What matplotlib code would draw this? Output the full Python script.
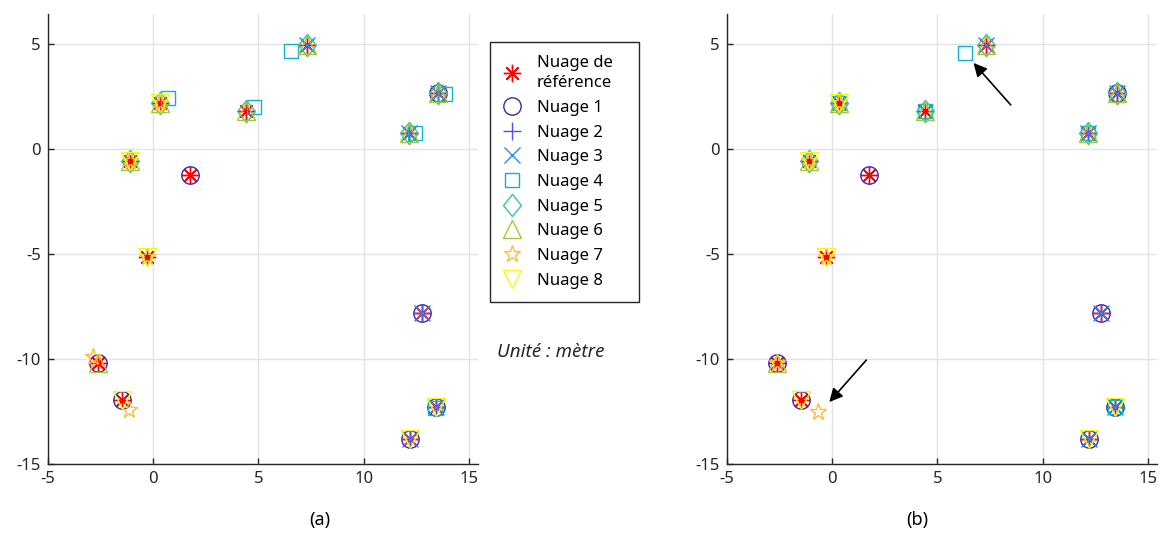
import matplotlib
matplotlib.use("Agg")
import matplotlib.pyplot as plt
from matplotlib.path import Path
from matplotlib.patches import Rectangle

plt.rcParams['font.family'] = ['Noto Sans', 'DejaVu Sans']
plt.rcParams['axes.unicode_minus'] = False

# ---------------- data ----------------
ref_x = [7.3, 0.33, 4.43, 13.55, 12.15, -1.12, 1.75, -0.29, 12.77, -2.62, -1.47, 13.42, 12.2]
ref_y = [4.93, 2.18, 1.81, 2.67, 0.77, -0.57, -1.24, -5.13, -7.8, -10.18, -11.95, -12.29, -13.81]

# panel (a)
a_n1_x = [13.55, 1.75, 12.77, -2.62, -1.47, 13.42, 12.2]
a_n1_y = [2.67, -1.24, -7.8, -10.18, -11.95, -12.29, -13.81]
a_n2_x = [13.55, 12.15, 12.77, 13.42, 12.2]
a_n2_y = [2.67, 0.77, -7.8, -12.29, -13.81]
a_n3_x = [7.3, 13.55, 12.15, 12.77, 13.42, 12.2]
a_n3_y = [4.93, 2.67, 0.77, -7.8, -12.29, -13.81]
a_n4_x = [6.56, 0.7, 4.8, 13.88, 12.45, 13.38]
a_n4_y = [4.65, 2.41, 1.98, 2.62, 0.75, -12.33]
a_n5_x = [7.3, 0.33, 4.43, 13.55, 12.15, -1.12]
a_n5_y = [4.93, 2.18, 1.81, 2.67, 0.77, -0.57]
a_n6_x = [7.3, 0.33, 4.43, 13.55, 12.15, -1.12, -2.62]
a_n6_y = [4.93, 2.18, 1.81, 2.67, 0.77, -0.57, -10.18]
a_n7_x = [0.33, -1.12, -0.29, -2.88, -1.13]
a_n7_y = [2.18, -0.57, -5.13, -9.89, -12.43]
a_n8_x = [0.33, -1.12, -0.29, -1.47, 13.42, 12.2]
a_n8_y = [2.18, -0.57, -5.13, -11.95, -12.29, -13.81]

# panel (b)
b_n1_x = a_n1_x
b_n1_y = a_n1_y
b_n2_x = a_n2_x
b_n2_y = a_n2_y
b_n3_x = a_n3_x
b_n3_y = a_n3_y
b_n4_x = [6.29, 0.33, 4.43, 12.15, 13.42]
b_n4_y = [4.56, 2.18, 1.81, 0.77, -12.29]
b_n5_x = a_n5_x
b_n5_y = a_n5_y
b_n6_x = a_n6_x
b_n6_y = a_n6_y
b_n7_x = [0.33, -1.12, -0.29, -2.62, -0.68]
b_n7_y = [2.18, -0.57, -5.13, -10.18, -12.51]
b_n8_x = a_n8_x
b_n8_y = a_n8_y

labels = ['Nuage de\nréférence', 'Nuage 1', 'Nuage 2', 'Nuage 3', 'Nuage 4',
          'Nuage 5', 'Nuage 6', 'Nuage 7', 'Nuage 8']
xticks = [-5, 0, 5, 10, 15]
xtick_labels = ['-5', '0', '5', '10', '15']
yticks = [-15, -10, -5, 0, 5]
ytick_labels = ['-15', '-10', '-5', '0', '5']

# arrows (panel b): (tip x, tip y, tail x, tail y)
arrow1 = (6.71, 4.10, 8.48, 2.10)
arrow2 = (-0.14, -12.05, 1.62, -10.05)

# ---------------- styles ----------------
colors = ['#ff0000', '#3e26a8', '#4852f4', '#2d87f0', '#11b1d6',
          '#37c899', '#abc337', '#fdbb38', '#f5f911']
diamond = Path([(0, 1), (0.8, 0), (0, -1), (-0.8, 0), (0, 1)],
               [Path.MOVETO, Path.LINETO, Path.LINETO, Path.LINETO, Path.CLOSEPOLY])
markers = [(8, 2, 0), 'o', '+', 'x', 's', diamond, '^', '*', 'v']
msizes = [12.5, 12.5, 12.5, 11, 9.4, 16, 13, 12.5, 13]

W, H = 1161, 536
fig = plt.figure(figsize=(W / 100, H / 100), dpi=100)
ax1 = fig.add_axes([48 / W, 1 - 464 / H, 430 / W, 450 / H])
ax2 = fig.add_axes([727 / W, 1 - 464 / H, 430 / W, 450 / H])

panel_a = [(ref_x, ref_y), (a_n1_x, a_n1_y), (a_n2_x, a_n2_y), (a_n3_x, a_n3_y),
           (a_n4_x, a_n4_y), (a_n5_x, a_n5_y), (a_n6_x, a_n6_y), (a_n7_x, a_n7_y),
           (a_n8_x, a_n8_y)]
panel_b = [(ref_x, ref_y), (b_n1_x, b_n1_y), (b_n2_x, b_n2_y), (b_n3_x, b_n3_y),
           (b_n4_x, b_n4_y), (b_n5_x, b_n5_y), (b_n6_x, b_n6_y), (b_n7_x, b_n7_y),
           (b_n8_x, b_n8_y)]

dark = '#262626'
FS = 12
handles = []
for ax, data in ((ax1, panel_a), (ax2, panel_b)):
    for i, (xs, ys) in enumerate(data):
        ln, = ax.plot(xs, ys, ls='none', marker=markers[i], ms=msizes[i],
                      mec=colors[i], mfc='none', mew=1.0, label=labels[i])
        if ax is ax1:
            handles.append(ln)
    ax.set_xlim(-5, 15.43)
    ax.set_ylim(-15, 6.43)
    ax.set_xticks(xticks)
    ax.set_xticklabels(xtick_labels)
    ax.set_yticks(yticks)
    ax.set_yticklabels(ytick_labels)
    ax.grid(True, color='#e3e3e3', lw=1.0)
    ax.set_axisbelow(True)
    for s in ('top', 'right'):
        ax.spines[s].set_visible(False)
    for s in ('left', 'bottom'):
        ax.spines[s].set_color(dark)
        ax.spines[s].set_linewidth(1.0)
    ax.tick_params(direction='in', length=4, width=1.0, color=dark,
                   labelcolor=dark, labelsize=FS, pad=5)

for tipx, tipy, tailx, taily in (arrow1, arrow2):
    ax2.annotate('', xy=(tipx, tipy), xytext=(tailx, taily),
                 arrowprops=dict(arrowstyle='-|>', color='black', lw=1.2,
                                 mutation_scale=20, shrinkA=0, shrinkB=0))

# legend box (MATLAB-style, generous padding)
fig.patches.append(Rectangle((490 / W, 1 - 302 / H), 149 / W, 260 / H,
                             transform=fig.transFigure, fill=True,
                             facecolor='white', edgecolor=dark, lw=1.0,
                             zorder=2))
hl = 1.5
start_px = 512 - hl * FS * 100 / 72 / 2
leg = fig.legend(handles=handles, loc='upper left',
                 bbox_to_anchor=(start_px / W, 1 - 55 / H), borderaxespad=0,
                 fontsize=FS, handlelength=hl, handletextpad=0.75,
                 labelspacing=0.52, borderpad=0.0, frameon=False)
leg.set_zorder(3)
for t in leg.get_texts():
    t.set_linespacing(1.35)

fig.text(497 / W, 1 - 352 / H, 'Unité : mètre', style='italic', fontsize=13.5,
         color=dark, ha='left', va='center')
fig.text(320 / W, 1 - 520 / H, '(a)', fontsize=13, color='black',
         ha='center', va='center')
fig.text(917 / W, 1 - 520 / H, '(b)', fontsize=13, color='black',
         ha='center', va='center')

fig.savefig('out.png', dpi=100)
